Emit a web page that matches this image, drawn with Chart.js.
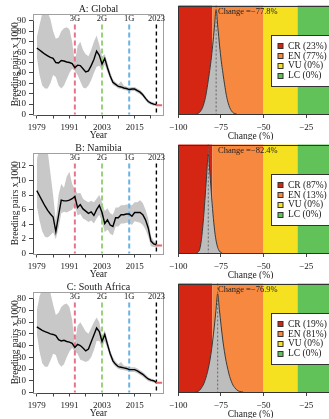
<!DOCTYPE html>
<html><head><meta charset="utf-8">
<script src="https://cdn.jsdelivr.net/npm/chart.js"></script>
<style>
html,body{margin:0;padding:0;background:#fff;}
body{width:329px;height:419px;overflow:hidden;position:relative;}
canvas{position:absolute;}
</style></head><body>
<script>
// ---------- data ----------
const years = [1979,1980,1981,1982,1983,1984,1985,1986,1987,1988,1989,1990,1991,1992,1993,1994,1995,1996,1997,1998,1999,2000,2001,2002,2003,2004,2005,2006,2007,2008,2009,2010,2011,2012,2013,2014,2015,2016,2017,2018,2019,2020,2021,2022,2023];

const lineA  = [64,62,60,58,56.5,55,54,50,49.5,52, 51.5,50.5,50,49,45,47.5,47,44,41,42, 47,53,61,57,48.5,54,45,37,31,29, 27,26.5,25.5,25,24,24.5,24.5,23,21.5,19, 15.5,12.5,11,10,9.5];
const upperA = [74,86,97,100,98,92,80,73,74,80, 83,84,82,70,50,66,70,62,58,56, 62,70,76,67,56,58,50,41,34,31, 29,32,28,27,26,26.5,26.5,25,23.5,21, 17.5,14,12.5,11.5,10.5];
const lowerA = [56,38,28,25,25,30,38,36,28,25, 28,34,40,44,42,38,32,26,25,28, 33,40,46,47,42,48,41,34,28.5,27, 25,24.5,23.5,23,22,22.5,22.5,21,19.5,17, 13.5,10.5,9.5,8.5,8.5];

const lineB  = [8.6,7.9,7.2,6.5,5.9,5.4,5.0,3.0,5.2,7.3, 7.2,7.2,7.3,7.5,7.8,6.3,6.7,6.1,5.8,5.5, 5.7,5.2,6.0,6.6,5.6,4.1,4.6,3.9,3.7,4.9, 4.9,5.3,5.3,5.4,5.4,5.1,5.6,5.6,5.6,5.3, 4.6,3.5,1.7,1.3,1.2];
const upperB = [12.8,14.5,15,15,14,11,8,4.5,8,9.5, 9,10.5,11.2,9.5,8.8,8.2,8.3,7.5,7.2,7.0, 7.2,7.0,7.5,8.0,7.0,5.8,6.2,5.5,5.3,6.3, 6.3,6.6,6.6,6.7,6.7,6.6,7.0,7.0,7.3,6.9, 6.0,4.8,2.4,1.7,1.4];
const lowerB = [6.5,4.5,3,2.3,2.2,2.5,2.9,2.0,3.5,5.5, 5.7,5.6,5.8,6.0,6.6,5.2,5.4,4.8,4.6,4.3, 4.5,4.1,4.8,5.3,4.3,2.9,3.3,2.7,2.5,3.7, 3.7,4.1,4.1,4.2,4.2,3.9,4.4,4.3,4.2,3.9, 3.3,2.3,1.0,0.9,0.9];

const lineC  = [56,54.5,53,52,51,50,49.5,48.5,45,44, 44.5,43.5,43,42,38.5,41,40,38,35.5,37, 43,49,55,52,43.5,49.5,41,33,27,24, 22,21.5,21,20.5,19.5,19.5,19.5,18.5,17,15.5, 13.5,11.5,10.5,10,8.5];
const upperC = [70,82,88,90,89,85,75,66,68,73, 75,76,73,62,42,57,60,56,52,50, 55,60,64,60,48,53,45,36,30,26.5, 24,26,23,22.5,21.5,21.5,21.5,20.5,19,17.5, 15.5,13,12,11,9.5];
const lowerC = [50,35,25,22,22,27,33,32,25,22, 24,30,35,38,35,33,28,27,26,27, 30,36,44,44,38,44,37,30,24.5,22, 20,19.5,19,18.5,17.5,17.5,17.5,16.5,15,13.5, 11.5,9.5,9,8.5,7.5];

const projYear = [2024];
const projA = [9], projB = [1.1], projC = [8.3];

const genYears  = [1993, 2003, 2013, 2023];
const genLabels = ['3G', '2G', '1G', '2023'];
const xTickYears  = [1979,1985,1991,1997,2003,2009,2015,2021];
const xLabelYears = [1979,1991,2003,2015];
const yTicksA = [0,10,20,30,40,50,60,70,80,90];
const yTicksB = [0,2,4,6,8,10,12];
const yTicksC = [0,10,20,30,40,50,60,70,80];
const panelTitles = ['A: Global', 'B: Namibia', 'C: South Africa'];

const categories = ['CR', 'EN', 'VU', 'LC'];
const catBounds  = [-100, -80, -50, -30, 0];
const pctA = [23, 77, 0, 0];
const pctB = [87, 13, 0, 0];
const pctC = [19, 81, 0, 0];
const changeA = -77.8, changeB = -82.4, changeC = -76.9;
const changeTicks = [-100, -75, -50, -25, 0];

const densChangeA = [-89.8,-88.8,-87.8,-86.8,-85.8,-84.8,-83.8,-82.8,-81.8,-80.8,-79.8,-78.8,-77.8,-76.8,-75.8,-74.8,-73.8,-72.8,-71.8,-70.8,-69.8,-68.8,-67.8,-66.8,-65.8];
const densHeightA = [0,0.004,0.012,0.03,0.06,0.11,0.18,0.28,0.39,0.51,0.66,0.83,1.0,0.83,0.66,0.51,0.39,0.28,0.18,0.11,0.06,0.03,0.012,0.004,0];
const densChangeB = [-89.4,-88.4,-87.4,-86.4,-85.4,-84.4,-83.4,-82.4,-81.4,-80.4,-79.4,-78.4,-77.4,-76.4,-75.4,-74.4];
const densHeightB = [0,0.01,0.04,0.14,0.31,0.53,0.78,1.0,0.8,0.56,0.35,0.19,0.09,0.035,0.01,0];
const densChangeC = [-89.9,-88.9,-87.9,-86.9,-85.9,-84.9,-83.9,-82.9,-81.9,-80.9,-79.9,-78.9,-77.9,-76.9,-75.9,-74.9,-73.9,-72.9,-71.9,-70.9,-69.9,-68.9,-67.9,-66.9,-65.9,-64.9,-63.9,-62.9,-61.9];
const densHeightC = [0,0.004,0.012,0.03,0.055,0.09,0.14,0.2,0.28,0.38,0.51,0.66,0.83,1.0,0.84,0.68,0.53,0.41,0.31,0.23,0.16,0.11,0.07,0.045,0.025,0.012,0.005,0.002,0];

// ---------- styles ----------
const SERIF = 'Liberation Serif';
const TXT = '#1a1a1a';
const genColors = ['#e8748a', '#98d27a', '#6cb4e4', '#000000'];
const catColors = ['#d42612', '#f7883f', '#f5e11f', '#62c25a'];
Chart.defaults.font.family = SERIF;
Chart.defaults.color = TXT;
Chart.defaults.animation = false;

const panelTops = [0, 139, 278];

function pts(xs, ys) { return xs.map((x, i) => ({x: x, y: ys[i]})); }

function leftChart(top, title, line, upper, lower, proj, yTicks, yMax) {
  const cv = document.createElement('canvas');
  cv.width = 170; cv.height = 140;
  cv.style.left = '0px'; cv.style.top = top + 'px';
  document.body.appendChild(cv);
  const deco = {
    id: 'leftDeco',
    afterDatasetDraw(chart, args) {
      if (args.index !== 1) return;
      const {ctx, chartArea: a, scales: {x}} = chart;
      ctx.save();
      genYears.forEach((g, i) => {
        const px = x.getPixelForValue(g);
        ctx.strokeStyle = genColors[i];
        ctx.lineWidth = i === 3 ? 1.4 : 2;
        ctx.setLineDash(i === 3 ? [4, 3] : [5, 3]);
        ctx.beginPath(); ctx.moveTo(px, a.top + 10.5); ctx.lineTo(px, a.bottom); ctx.stroke();
      });
      ctx.restore();
    },
    afterDraw(chart) {
      const {ctx, chartArea: a, scales: {x, y}} = chart;
      ctx.save();
      // box
      ctx.strokeStyle = '#a0a0a0'; ctx.lineWidth = 1;
      ctx.strokeRect(Math.round(a.left) + 0.5, Math.round(a.top) + 0.5, Math.round(a.right - a.left) - 1, Math.round(a.bottom - a.top));
      // axis lines
      ctx.strokeStyle = '#444';
      ctx.beginPath();
      ctx.moveTo(Math.round(a.left) + 0.5, y.getPixelForValue(yTicks[0]));
      ctx.lineTo(Math.round(a.left) + 0.5, y.getPixelForValue(yTicks[yTicks.length - 1]));
      ctx.moveTo(x.getPixelForValue(xTickYears[0]), Math.round(a.bottom) + 0.5);
      ctx.lineTo(x.getPixelForValue(xTickYears[xTickYears.length - 1]), Math.round(a.bottom) + 0.5);
      ctx.stroke();
      // gen labels
      ctx.fillStyle = TXT; ctx.textAlign = 'center'; ctx.textBaseline = 'middle';
      ctx.font = '8.5px ' + SERIF;
      genYears.forEach((g, i) => ctx.fillText(genLabels[i], x.getPixelForValue(g), a.top + 4.5));
      // title
      ctx.font = '10px ' + SERIF;
      ctx.fillText(title, (a.left + a.right) / 2, a.top - 5);
      ctx.restore();
    }
  };
  new Chart(cv, {
    type: 'line',
    data: {datasets: [
      {data: pts(years, upper), fill: '+1', backgroundColor: '#c8c8c8', borderColor: 'rgba(0,0,0,0)', pointRadius: 0, order: 3},
      {data: pts(years, lower), fill: false, borderColor: 'rgba(0,0,0,0)', pointRadius: 0, order: 2},
      {data: pts(years, line), fill: false, borderColor: '#000', borderWidth: 1.4, pointRadius: 0, order: 1},
      {data: pts(projYear, proj), showLine: false, pointStyle: 'line', pointRadius: 3, borderColor: '#e36a6a', borderWidth: 2, order: 0}
    ]},
    options: {
      responsive: false, devicePixelRatio: 1,
      layout: {padding: {left: 0, top: 14, right: 2, bottom: 0}},
      plugins: {legend: {display: false}, tooltip: {enabled: false}},
      scales: {
        x: {type: 'linear', min: 1977.6, max: 2025.8,
          afterBuildTicks: s => { s.ticks = xTickYears.map(v => ({value: v})); },
          ticks: {callback: v => xLabelYears.includes(v) ? String(v) : '', autoSkip: false, maxRotation: 0, padding: 4, color: TXT, font: {size: 9}},
          grid: {drawOnChartArea: false, tickLength: 4, tickColor: '#444'},
          border: {display: false},
          title: {display: true, text: 'Year', color: TXT, font: {size: 9.5, lineHeight: 1}, padding: {top: 0, bottom: 0}},
          afterFit: s => { s.height = 25.5; }
        },
        y: {min: 0, max: yMax,
          afterBuildTicks: s => { s.ticks = yTicks.map(v => ({value: v})); },
          ticks: {padding: 3, color: TXT, font: {size: 9}, autoSkip: false},
          grid: {drawOnChartArea: false, tickLength: 4, tickColor: '#444'},
          border: {display: false},
          title: {display: true, text: 'Breeding pairs x 1000', color: TXT, font: {size: 9.5, lineHeight: 1.2}, padding: {top: 9.5, bottom: 0}},
          afterFit: s => { s.width = 33; }
        }
      }
    },
    plugins: [deco]
  });
}

function rightChart(top, dX, dY, change, pct, yMax) {
  const cv = document.createElement('canvas');
  cv.width = 190; cv.height = 140;
  cv.style.left = '165px'; cv.style.top = top + 'px';
  document.body.appendChild(cv);
  const deco = {
    id: 'rightDeco',
    beforeDatasetsDraw(chart) {
      const {ctx, chartArea: a, scales: {x}} = chart;
      ctx.save();
      for (let i = 0; i < categories.length; i++) {
        const x0 = x.getPixelForValue(catBounds[i]), x1 = x.getPixelForValue(catBounds[i + 1]);
        ctx.fillStyle = catColors[i];
        ctx.fillRect(x0, a.top, x1 - x0, a.bottom - a.top);
      }
      ctx.restore();
    },
    afterDatasetsDraw(chart) {
      const {ctx, chartArea: a, scales: {x}} = chart;
      ctx.save();
      // median line
      const mx = x.getPixelForValue(change);
      ctx.strokeStyle = '#666'; ctx.lineWidth = 1; ctx.setLineDash([2, 2]);
      ctx.beginPath(); ctx.moveTo(mx, a.top); ctx.lineTo(mx, a.bottom); ctx.stroke();
      ctx.setLineDash([]);
      // box
      ctx.strokeStyle = '#333';
      ctx.strokeRect(Math.round(a.left) + 0.5, Math.round(a.top) + 0.5, Math.round(a.right - a.left), Math.round(a.bottom - a.top) - 1);
      // change label
      ctx.fillStyle = '#222'; ctx.font = '8.5px ' + SERIF; ctx.textAlign = 'center'; ctx.textBaseline = 'middle';
      ctx.fillText('Change =' + '\u2212' + Math.abs(change).toFixed(1) + '%', x.getPixelForValue(-59.2), a.top + 6);
      // legend
      const lx = Math.round(a.left + 92.7) + 0.5, ly = Math.round(a.top + 29.5) + 0.5;
      ctx.fillStyle = '#fff'; ctx.fillRect(lx, ly, 120, 51);
      ctx.strokeStyle = '#333'; ctx.strokeRect(lx, ly, 120, 51);
      ctx.font = '9.5px ' + SERIF; ctx.textAlign = 'left';
      categories.forEach((c, i) => {
        const ry = a.top + 40.3 + i * 9.8;
        ctx.fillStyle = catColors[i];
        ctx.fillRect(lx + 6.5, Math.round(ry - 2.5), 5, 5);
        ctx.strokeStyle = '#333';
        ctx.strokeRect(lx + 6.5, Math.round(ry - 2.5) + 0.5, 5, 5);
        ctx.fillStyle = TXT;
        ctx.fillText(c + ' (' + pct[i] + '%)', lx + 16.5, ry + 0.5);
      });
      ctx.restore();
    },
    afterDraw(chart) {
      const {ctx, chartArea: a, scales: {x}} = chart;
      ctx.save();
      ctx.fillStyle = TXT; ctx.font = '9.5px ' + SERIF; ctx.textAlign = 'center'; ctx.textBaseline = 'middle';
      ctx.fillText('Change (%)', x.getPixelForValue(-57.6), a.bottom + 22);
      ctx.restore();
    }
  };
  new Chart(cv, {
    type: 'line',
    data: {datasets: [
      {data: pts(dX, dY), fill: 'origin', backgroundColor: '#bdbdbd', borderColor: '#3a3a3a', borderWidth: 1, pointRadius: 0, cubicInterpolationMode: 'monotone'}
    ]},
    options: {
      responsive: false, devicePixelRatio: 1,
      layout: {padding: {left: 9, top: 5.5, right: 6.3, bottom: 0}},
      plugins: {legend: {display: false}, tooltip: {enabled: false}},
      scales: {
        x: {type: 'linear', min: -100, max: 0,
          afterBuildTicks: s => { s.ticks = changeTicks.map(v => ({value: v})); },
          ticks: {callback: v => v < 0 ? '\u2212' + Math.abs(v) : String(v), autoSkip: false, maxRotation: 0, padding: 4, color: TXT, font: {size: 9}},
          grid: {drawOnChartArea: false, tickLength: 4, tickColor: '#444'},
          border: {display: false},
          afterFit: s => { s.height = 26; }
        },
        y: {display: false, min: 0, max: yMax}
      }
    },
    plugins: [deco]
  });
}

leftChart(panelTops[0], panelTitles[0], lineA, upperA, lowerA, projA, yTicksA, 96.7);
leftChart(panelTops[1], panelTitles[1], lineB, upperB, lowerB, projB, yTicksB, 13.75);
leftChart(panelTops[2], panelTitles[2], lineC, upperC, lowerC, projC, yTicksC, 85.7);
rightChart(panelTops[0], densChangeA, densHeightA, changeA, pctA, 1.04);
rightChart(panelTops[1], densChangeB, densHeightB, changeB, pctB, 1.10);
rightChart(panelTops[2], densChangeC, densHeightC, changeC, pctC, 1.105);
</script>
</body></html>
